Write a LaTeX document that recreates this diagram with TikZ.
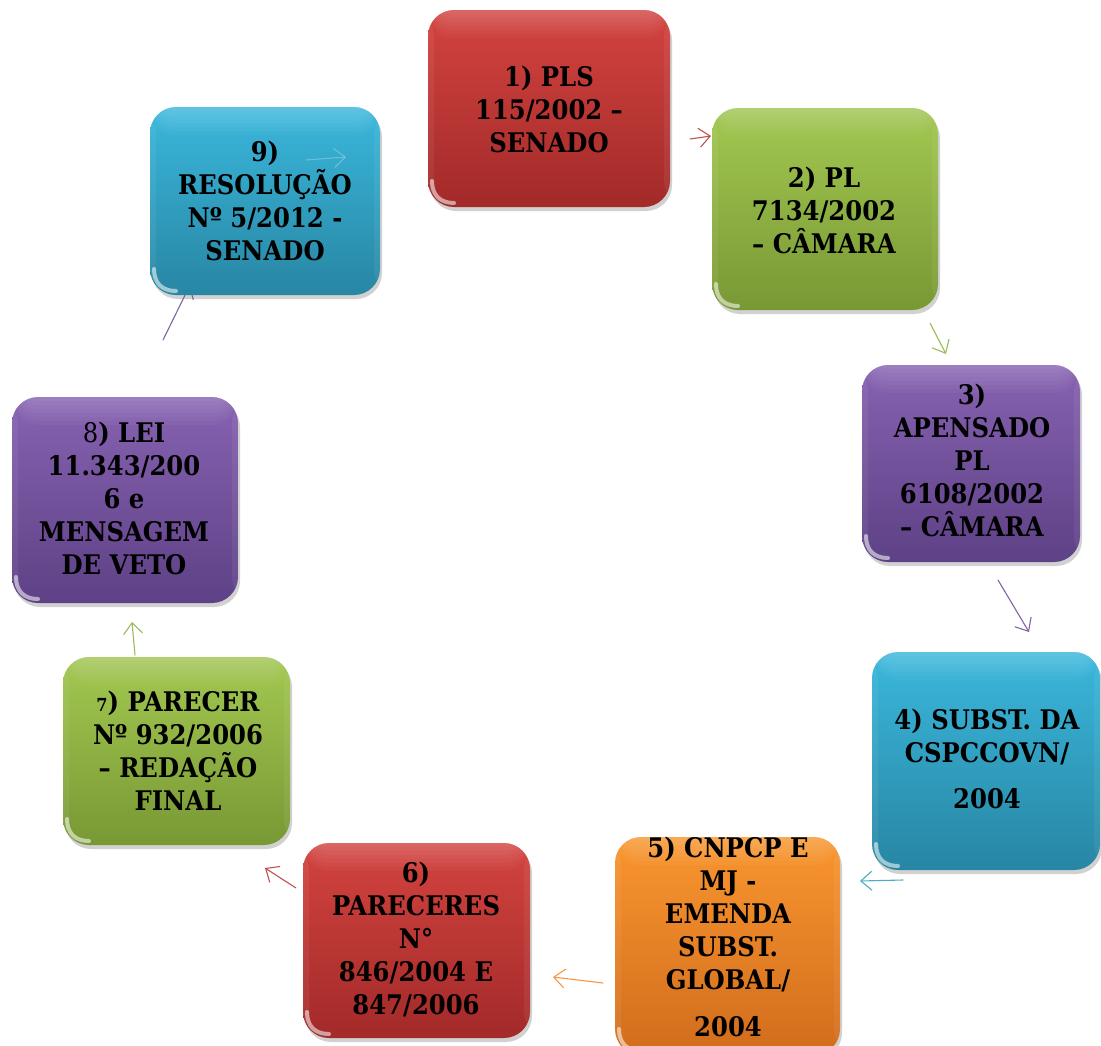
\documentclass[tikz,border=0pt]{standalone}
\usepackage{fontspec}
\setmainfont{DejaVu Serif Condensed}
\usetikzlibrary{arrows.meta,shadows}
\definecolor{redT}{HTML}{D3433F}\definecolor{redB}{HTML}{A22A29}\definecolor{redL}{HTML}{C0504D}
\definecolor{grnT}{HTML}{A3C851}\definecolor{grnB}{HTML}{789834}\definecolor{grnL}{HTML}{9BBB59}
\definecolor{purT}{HTML}{8762B1}\definecolor{purB}{HTML}{5E4186}\definecolor{purL}{HTML}{8064A2}
\definecolor{bluT}{HTML}{3AB7DC}\definecolor{bluB}{HTML}{2886A3}\definecolor{bluL}{HTML}{4BACC6}
\definecolor{orgT}{HTML}{F9962F}\definecolor{orgB}{HTML}{D16C1C}\definecolor{orgL}{HTML}{F79646}
\tikzset{
  gbox/.style n args={2}{rectangle, rounded corners=26pt, draw=none, inner sep=0pt,
    top color=#1, bottom color=#2,
    drop shadow={opacity=0.3, shadow xshift=2pt, shadow yshift=-4pt, fill=black!60},
    path picture={
      \foreach \k in {1,...,7}{
        \fill[white, fill opacity=0.03]
          (path picture bounding box.north west) rectangle ([yshift={-4pt*\k}]path picture bounding box.north east);}
      \fill[white, fill opacity=0.06]
          (path picture bounding box.north west) rectangle ([xshift=6pt]path picture bounding box.south west);
      \fill[white, fill opacity=0.06]
          (path picture bounding box.north east) rectangle ([xshift=-6pt]path picture bounding box.south east);
      \draw[white, line width=4pt, opacity=0.55, line cap=round]
        ([xshift=4pt,yshift=26pt]path picture bounding box.south west)
        .. controls ([xshift=4pt,yshift=12pt]path picture bounding box.south west)
        and ([xshift=12pt,yshift=4pt]path picture bounding box.south west) ..
        ([xshift=26pt,yshift=4pt]path picture bounding box.south west);
    }},
  txt/.style={align=center, anchor=north, inner sep=0pt, text=black,
    font=\bfseries\fontsize{27}{33}\selectfont},
  conn/.style={line width=1.1pt, line cap=round,
    -{Straight Barb[length=11pt,width=19pt,line width=1.1pt]}}
}
\begin{document}
\begin{tikzpicture}[x=1pt,y=-1pt]
\useasboundingbox (0,0) rectangle (1101,1045);
% connector end points
\coordinate (a12s) at (690,139); \coordinate (a12e) at (711,136);
\coordinate (a23s) at (930,323); \coordinate (a23e) at (946,354);
\coordinate (a34s) at (998,580); \coordinate (a34e) at (1029,632);
\coordinate (a45s) at (903,880); \coordinate (a45e) at (860,881);
\coordinate (a56s) at (603,983); \coordinate (a56e) at (553,977);
\coordinate (a67s) at (296,888); \coordinate (a67e) at (265,868);
\coordinate (a78s) at (135,655); \coordinate (a78e) at (132,622);
\coordinate (a89s) at (163,340); \coordinate (a89e) at (190,285);
\coordinate (a91s) at (306,160); \coordinate (a91e) at (346,157);
% connectors
\draw[conn, redL] (a12s) -- (a12e);
\draw[conn, grnL] (a23s) -- (a23e);
\draw[conn, purL] (a34s) -- (a34e);
\draw[conn, bluL] (a45s) -- (a45e);
\draw[conn, orgL] (a56s) -- (a56e);
\draw[conn, redL] (a67s) -- (a67e);
\draw[conn, grnL] (a78s) -- (a78e);
\draw[conn, purL] (a89s) -- (a89e);
% boxes
\node[gbox={redT}{redB}, minimum width=242pt, minimum height=197pt] (b1) at (549,108.5) {};
\node[gbox={grnT}{grnB}, minimum width=226pt, minimum height=202pt] (b2) at (825,209) {};
\node[gbox={purT}{purB}, minimum width=218pt, minimum height=197pt] (b3) at (971,463.5) {};
\node[gbox={bluT}{bluB}, minimum width=228pt, minimum height=218pt] (b4) at (986,761) {};
\node[gbox={orgT}{orgB}, minimum width=225pt, minimum height=218pt] (b5) at (727.5,946) {};
\node[gbox={redT}{redB}, minimum width=227pt, minimum height=195pt] (b6) at (416.5,940.5) {};
\node[gbox={grnT}{grnB}, minimum width=227pt, minimum height=188pt] (b7) at (176.5,751) {};
\node[gbox={purT}{purB}, minimum width=226pt, minimum height=206pt] (b8) at (125,500) {};
\node[gbox={bluT}{bluB}, minimum width=230pt, minimum height=188pt] (b9) at (265,201) {};
% faint connector seen through box 9
\draw[conn, white, opacity=0.25] (a91s) -- (a91e);
% texts
\node[txt] (t1) at (549,66) {1) PLS\\115/2002 –\\SENADO};
\node[txt] (t2) at (824,167) {2) PL\\7134/2002\\– CÂMARA};
\node[txt] (t3) at (972,384) {3)\\APENSADO\\PL\\6108/2002\\– CÂMARA};
\node[txt] (t4) at (987,709) {4) SUBST. DA\\CSPCCOVN/\\[13pt]2004};
\node[txt] (t5) at (728,837) {5) CNPCP E\\MJ -\\EMENDA\\SUBST.\\GLOBAL/\\[14pt]2004};
\node[txt] (t6) at (416,862) {6)\\PARECERES\\N°\\846/2004 E\\847/2006};
\node[txt] (t7) at (178,691) {{\fontsize{18}{33}\selectfont 7}) PARECER\\Nº 932/2006\\– REDAÇÃO\\FINAL};
\node[txt] (t8) at (124,422) {{\mdseries 8}) LEI\\11.343/200\\6 e\\MENSAGEM\\DE VETO};
\node[txt] (t9) at (265,141) {9)\\RESOLUÇÃO\\Nº 5/2012 -\\SENADO};
\end{tikzpicture}
\end{document}
